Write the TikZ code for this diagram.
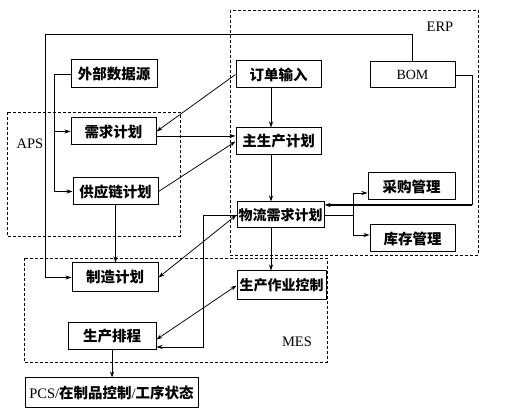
\documentclass[tikz,border=0pt]{standalone}
\usepackage{fontspec}
\setmainfont{Liberation Serif}
\newfontfamily\cjk{Noto Sans CJK SC}
\usetikzlibrary{arrows.meta}
\begin{document}
\begin{tikzpicture}[x=1pt,y=-1pt,
  box/.style={draw,line width=1pt,inner sep=0pt,minimum height=27pt,font=\cjk\bfseries\fontsize{14.5}{16}\selectfont},
  arr/.style={line width=0.75pt,-{Stealth[length=6pt,width=4pt]}},
  darr/.style={line width=0.75pt,{Stealth[length=6pt,width=4pt]}-{Stealth[length=6pt,width=4pt]}},
  ln/.style={line width=0.75pt},
  region/.style={draw,line width=0.7pt,dash pattern=on 3pt off 2pt},
  lab/.style={font=\fontsize{14.5}{16}\selectfont}]
\useasboundingbox (0,0) rectangle (515,411);
\fill[white] (0,0) rectangle (515,411);
% regions
\draw[region] (230,10) rectangle (478,255);
\draw[region] (7,112) rectangle (180,236);
\draw[region] (24,258) rectangle (327,362);
\node[lab] (erpl) at (440,27) {ERP};
\node[lab] (apsl) at (30,144) {APS};
\node[lab] (mesl) at (297,342) {MES};
% boxes
\node[box,minimum width=86pt,minimum height=28pt] (ext) at (114,74) {外部数据源};
\node[box,minimum width=85pt] (dem) at (113.5,131.5) {需求计划};
\node[box,minimum width=85pt] (sup) at (115.5,191.5) {供应链计划};
\node[box,minimum width=85pt] (ord) at (278.5,74.5) {订单输入};
\node[box,minimum width=85pt,minimum height=26pt,font=\rmfamily\fontsize{14}{16}\selectfont] (bom) at (412.5,75) {BOM};
\node[box,minimum width=85pt] (mps) at (278.5,141.5) {主生产计划};
\node[box,minimum width=87pt] (pur) at (411.5,186.5) {采购管理};
\node[box,minimum width=87pt,minimum height=26pt,font=\cjk\bfseries\fontsize{14}{16}\selectfont] (mrp) at (280.5,215) {物流需求计划};
\node[box,minimum width=85pt] (inv) at (412.5,238.5) {库存管理};
\node[box,minimum width=86pt,minimum height=29pt] (mfg) at (115,277.5) {制造计划};
\node[box,minimum width=89pt,minimum height=29pt,font=\cjk\bfseries\fontsize{14}{16}\selectfont] (sfc) at (281.5,285.5) {生产作业控制};
\node[box,minimum width=88pt] (sch) at (112,336.5) {生产排程};
\node[box,minimum width=173pt,minimum height=30pt,font=\rmfamily\fontsize{14.5}{16}\selectfont] (pcs) at (111.5,393) {PCS/{\cjk\bfseries 在制品控制}/{\cjk\bfseries 工序状态}};
% helper coordinates
\coordinate (ctop) at (45,34);
\coordinate (j1) at (54,74);
\coordinate (vx) at (271,0);
\coordinate (brc) at (472,205);
\coordinate (pa) at (353,193);
\coordinate (ia) at (353,235);
\coordinate (lp) at (203,347);
% connectors
\draw[arr] (bom.north) |- (ctop) |- (mfg.west);
\draw[arr] (ext.west) -- (j1) |- (sup.west);
\draw[arr] (j1 |- dem.west) -- (dem.west);
\draw[arr] (ord.west) -- (dem.east);
\draw[arr] ([yshift=-4.5pt]dem.east) -- ([yshift=-4.5pt]dem.east -| mps.west);
\draw[arr] (sup.east) -- (mps.west);
\draw[arr] (vx |- ord.south) -- (vx |- mps.north);
\draw[arr] (vx |- mps.south) -- (vx |- mrp.north);
\draw[ln] (bom.east) -| (brc);
\draw[arr,line width=1.3pt] (brc) -- (brc -| mrp.east);
\draw[ln] (mrp.east) -- (mrp.east -| pa);
\draw[arr] (ia) -- (pa) -- (pa -| pur.west);
\draw[arr] (pa) -- (ia) -- (ia -| inv.west);
\draw[arr] (vx |- mrp.south) -- (vx |- sfc.north);
\draw[arr] (sup.south) -- (sup.south |- mfg.north);
\draw[darr] (mfg.east) -- (mrp.west);
\draw[darr] ([yshift=-3pt]sch.east) -- (sfc.west);
\draw[arr] (mrp.west) -| (lp) -- (lp -| sch.east);
\draw[arr] (sch.south) -- (sch.south |- pcs.north);
\end{tikzpicture}
\end{document}
